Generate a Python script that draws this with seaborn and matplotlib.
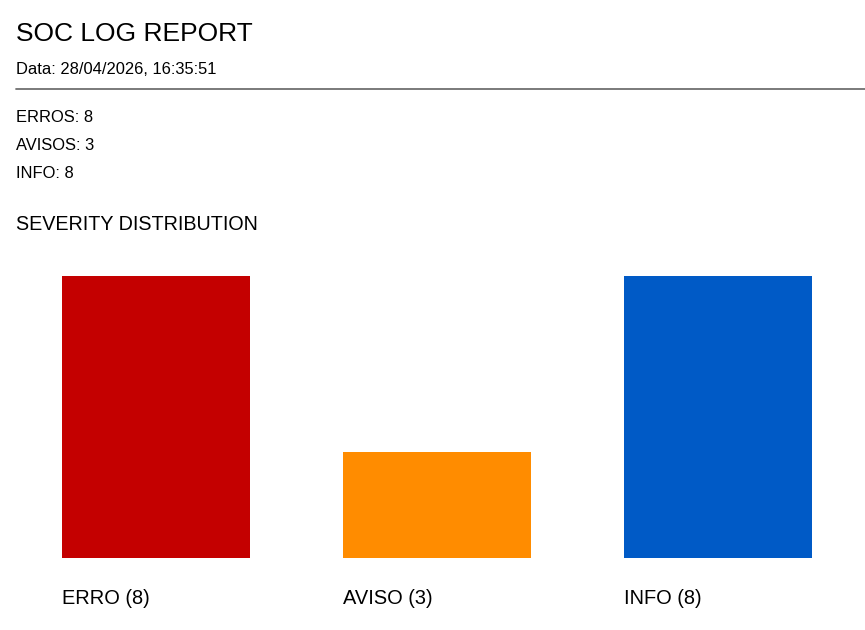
import numpy as np
import pandas as pd
import matplotlib
matplotlib.use('Agg')
import matplotlib.pyplot as plt
import seaborn as sns

# data
categories = ['ERRO', 'AVISO', 'INFO']
counts = [8, 3, 8]
bar_colors = ['#C40000', '#FF8C00', '#005AC6']
summary_names = ['ERROS', 'AVISOS', 'INFO']
report_title = 'SOC LOG REPORT'
report_date = 'Data: 28/04/2026, 16:35:51'
section_title = 'SEVERITY DISTRIBUTION'

sns.set_style('white')
plt.rcParams['font.family'] = ['Liberation Sans', 'DejaVu Sans']
plt.rcParams['text.color'] = 'black'

W, H = 865, 630
fig = plt.figure(figsize=(W / 100, H / 100), dpi=100)

# header text (figure pixel coords -> fraction)
def fy(py):
    return 1 - py / H

fig.text(16 / W, fy(34), report_title, fontsize=19, va='center', ha='left')
fig.text(16 / W, fy(70), report_date, fontsize=11.9, va='center', ha='left')
fig.add_artist(plt.Line2D([16 / W, 1.0], [fy(89), fy(89)], color='#707070', lw=1.3))
for i, (name, c) in enumerate(zip(summary_names, counts)):
    fig.text(16 / W, fy(117 + 28 * i), f'{name}: {c}', fontsize=11.9, va='center', ha='left')
fig.text(16 / W, fy(224), section_title, fontsize=14.2, va='center', ha='left')

# bar chart area: bars baseline at y=558 px, tallest top at 276 px
ax_top, ax_bot = 240, 558
ax = fig.add_axes([0, 1 - ax_bot / H, 1, (ax_bot - ax_top) / H])
bar_w = 188 / 281
df = pd.DataFrame({'cat': categories, 'n': counts})
sns.barplot(data=df, x='cat', y='n', hue='cat', palette=bar_colors, width=bar_w,
            saturation=1, legend=False, linewidth=0, ax=ax)
ax.set_xlim((0 - 156) / 281, (W - 156) / 281)
ax.set_ylim(0, max(counts) * (ax_bot - ax_top) / (ax_bot - 276))
ax.axis('off')

for i, (cat, c) in enumerate(zip(categories, counts)):
    ax.annotate(f'{cat} ({c})', xy=(i - bar_w / 2, 0), xytext=(0, -40),
                textcoords='offset pixels', fontsize=14.4, va='center', ha='left')

fig.savefig('out.png', dpi=100, facecolor='white')
